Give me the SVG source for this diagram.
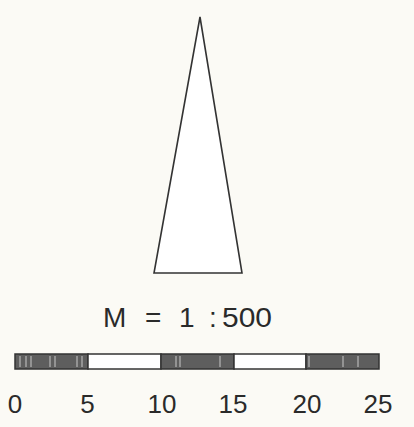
<svg xmlns="http://www.w3.org/2000/svg" width="414" height="427" viewBox="0 0 414 427">
  <style>
    .lbl { font-family: "Liberation Sans", Arial, sans-serif; fill: #2a2a2a; }
    .num { font-size: 26px; text-anchor: middle; }
    .dark { fill: #5e5e5e; stroke: #333; stroke-width: 1.5; }
    .light { fill: #ffffff; stroke: #333; stroke-width: 1.5; }
    .streak { stroke: #c8c8c8; stroke-width: 1; }
  </style>
  <rect width="414" height="427" fill="#fbfaf5"/>
  <g id="north-arrow">
    <polygon points="200,17 154,273 242,273" fill="#ffffff" stroke="#333" stroke-width="1.6" stroke-linejoin="miter"/>
  </g>
  <g id="scale-text" class="lbl" font-size="28">
    <text x="103" y="327">M</text>
    <text x="145" y="327">=</text>
    <text x="179" y="327">1</text>
    <text x="209" y="327">:</text>
    <text x="222" y="327" textLength="50" lengthAdjust="spacingAndGlyphs">500</text>
  </g>
  <g id="scale-bar">
    <rect class="dark" x="15" y="354" width="73" height="15"/>
    <rect class="light" x="88" y="354" width="73" height="15"/>
    <rect class="dark" x="161" y="354" width="73" height="15"/>
    <rect class="light" x="234" y="354" width="72" height="15"/>
    <rect class="dark" x="306" y="354" width="73" height="15"/>
    <g class="streak">
      <line x1="20" y1="356" x2="20" y2="367"/>
      <line x1="26" y1="356" x2="26" y2="367"/>
      <line x1="31" y1="356" x2="31" y2="367"/>
      <line x1="50" y1="356" x2="50" y2="367"/>
      <line x1="55" y1="356" x2="55" y2="367"/>
      <line x1="77" y1="356" x2="77" y2="367"/>
      <line x1="82" y1="356" x2="82" y2="367"/>
      <line x1="176" y1="356" x2="176" y2="367"/>
      <line x1="180" y1="356" x2="180" y2="367"/>
      <line x1="220" y1="356" x2="220" y2="367"/>
      <line x1="309" y1="356" x2="309" y2="367"/>
      <line x1="343" y1="356" x2="343" y2="367"/>
      <line x1="358" y1="356" x2="358" y2="367"/>
    </g>
  </g>
  <g id="scale-numbers" class="lbl num">
    <text x="15" y="413">0</text>
    <text x="87.5" y="413">5</text>
    <text x="162" y="413">10</text>
    <text x="233" y="413">15</text>
    <text x="307" y="413">20</text>
    <text x="378" y="413">25</text>
  </g>
</svg>
